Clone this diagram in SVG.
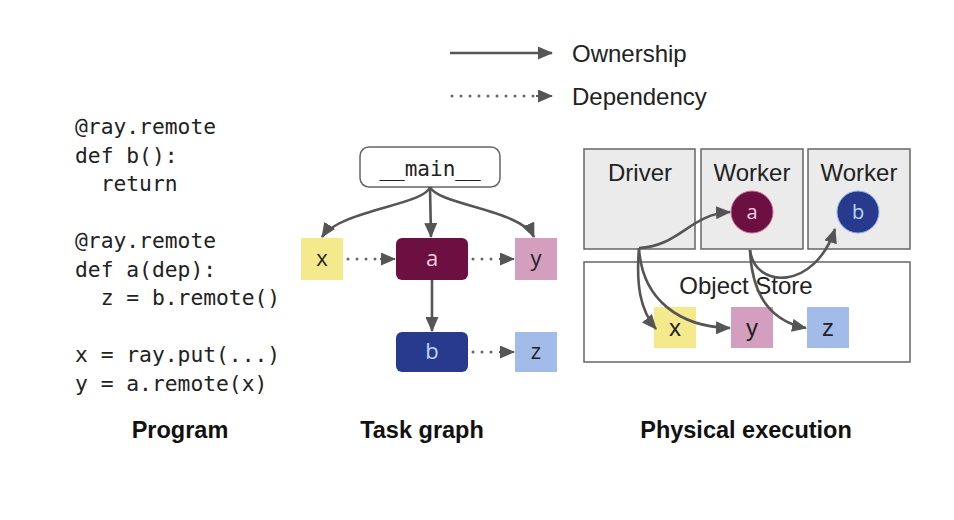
<svg xmlns="http://www.w3.org/2000/svg" width="954" height="520" viewBox="0 0 954 520">
<style>
.code{font-family:"DejaVu Sans Mono","Liberation Mono",monospace;font-size:21.3px;fill:#222;white-space:pre}
.cap{font-family:"Liberation Sans",Arial,sans-serif;font-size:23.5px;font-weight:bold;fill:#111;text-anchor:middle}
.leg{font-family:"Liberation Sans",Arial,sans-serif;font-size:24px;fill:#222}
.lbl{font-family:"Open Sans","DejaVu Sans",sans-serif;font-size:22px;text-anchor:middle}
.box{font-family:"Liberation Sans",Arial,sans-serif;font-size:24px;fill:#222;text-anchor:middle}
.own{fill:none;stroke:#555;stroke-width:2.6}
.dep{fill:none;stroke:#666;stroke-width:3;stroke-linecap:round;stroke-dasharray:0 9}
.proc{fill:#ebebeb;stroke:#666;stroke-width:1.5}
</style>
<defs>
<marker id="ah" markerUnits="userSpaceOnUse" markerWidth="15" markerHeight="13" refX="14" refY="6.5" orient="auto">
<path d="M0,0 L15,6.5 L0,13 z" fill="#555"/>
</marker>
</defs>
<rect width="954" height="520" fill="#fff"/>

<g id="legend">
<line class="own" x1="450" y1="53" x2="552" y2="53" marker-end="url(#ah)"/>
<text class="leg" x="572" y="62">Ownership</text>
<line class="dep" x1="452" y1="96" x2="536" y2="96"/>
<line x1="536" y1="96" x2="552" y2="96" stroke="#555" stroke-width="2" marker-end="url(#ah)"/>
<text class="leg" x="572" y="105">Dependency</text>
</g>

<g id="program" xml:space="preserve">
<text class="code" x="75" y="134">@ray.remote</text>
<text class="code" x="75" y="163">def b():</text>
<text class="code" x="75" y="191">  return</text>
<text class="code" x="75" y="248">@ray.remote</text>
<text class="code" x="75" y="277">def a(dep):</text>
<text class="code" x="75" y="305">  z = b.remote()</text>
<text class="code" x="75" y="362">x = ray.put(...)</text>
<text class="code" x="75" y="391">y = a.remote(x)</text>
<text class="cap" x="180" y="438">Program</text>
</g>

<g id="task-graph">
<g id="tg-main">
<rect x="360" y="147" width="140" height="40" rx="9" fill="#fff" stroke="#666" stroke-width="1.5"/>
<text class="code" x="430" y="176" text-anchor="middle" style="font-size:21px">__main__</text>
</g>
<g id="tg-x"><rect x="301" y="238" width="42" height="42" fill="#f4e98c"/><text class="lbl" x="322" y="266" fill="#222">x</text></g>
<g id="tg-a"><rect x="396" y="238" width="72" height="42" rx="6" fill="#6b1040"/><text class="lbl" x="432" y="266" fill="#f3cde0">a</text></g>
<g id="tg-y"><rect x="515" y="238" width="42" height="42" fill="#d49ebf"/><text class="lbl" x="536" y="266" fill="#222">y</text></g>
<g id="tg-b"><rect x="396" y="332" width="72" height="40" rx="6" fill="#283a8e"/><text class="lbl" x="432" y="359" fill="#bcd6f5">b</text></g>
<g id="tg-z"><rect x="515" y="332" width="42" height="40" fill="#a3bbe8"/><text class="lbl" x="536" y="359" fill="#222">z</text></g>
<text class="cap" x="422" y="438">Task graph</text>
</g>

<g id="physical">
<g id="driver"><rect class="proc" x="584" y="149" width="111" height="100"/><text class="box" x="640" y="181">Driver</text></g>
<g id="worker1"><rect class="proc" x="701" y="149" width="102" height="100"/><text class="box" x="752" y="181">Worker</text>
<circle cx="752" cy="212" r="21" fill="#6b1040" stroke="#c86a96" stroke-width="1"/><text class="lbl" x="752" y="219" fill="#f3cde0" style="font-size:20px">a</text></g>
<g id="worker2"><rect class="proc" x="808" y="149" width="102" height="100"/><text class="box" x="859" y="181">Worker</text>
<circle cx="858" cy="212" r="21" fill="#283a8e" stroke="#8fb0ec" stroke-width="1"/><text class="lbl" x="858" y="219" fill="#bcd6f5" style="font-size:20px">b</text></g>
<g id="object-store"><rect x="584" y="262" width="326" height="100" fill="#fff" stroke="#666" stroke-width="1.5"/><text class="box" x="746" y="294">Object Store</text>
<g id="os-x"><rect x="654" y="307" width="42" height="41" fill="#f4e98c"/><text class="box" x="675" y="336">x</text></g>
<g id="os-y"><rect x="731" y="307" width="42" height="41" fill="#d49ebf"/><text class="box" x="752" y="336">y</text></g>
<g id="os-z"><rect x="807" y="307" width="42" height="41" fill="#a3bbe8"/><text class="box" x="828" y="336">z</text></g>
</g>
<text class="cap" x="746" y="438">Physical execution</text>
</g>

<g id="connectors">
<path class="own" d="M430,187 C425,205 340,210 322,237" marker-end="url(#ah)"/>
<line class="own" x1="430" y1="187" x2="431" y2="237" marker-end="url(#ah)"/>
<path class="own" d="M430,187 C438,205 522,210 534,237" marker-end="url(#ah)"/>
<line class="own" x1="432" y1="280" x2="432" y2="331" marker-end="url(#ah)"/>
<line class="dep" x1="348" y1="259" x2="380" y2="259"/>
<line x1="380" y1="259" x2="395" y2="259" stroke="#555" stroke-width="2" marker-end="url(#ah)"/>
<line class="dep" x1="473" y1="259" x2="499" y2="259"/>
<line x1="499" y1="259" x2="514" y2="259" stroke="#555" stroke-width="2" marker-end="url(#ah)"/>
<line class="dep" x1="473" y1="352" x2="499" y2="352"/>
<line x1="499" y1="352" x2="514" y2="352" stroke="#555" stroke-width="2" marker-end="url(#ah)"/>
<path class="own" d="M639,248 C680,246 690,214 730,212" marker-end="url(#ah)"/>
<path class="own" d="M639,248 C636,285 640,310 656,329" marker-end="url(#ah)"/>
<path class="own" d="M639,248 C642,300 680,327 730,328" marker-end="url(#ah)"/>
<path class="own" d="M750,250 C755,290 815,290 835,229" marker-end="url(#ah)"/>
<path class="own" d="M750,250 C752,300 775,322 806,328" marker-end="url(#ah)"/>
</g>
</svg>
